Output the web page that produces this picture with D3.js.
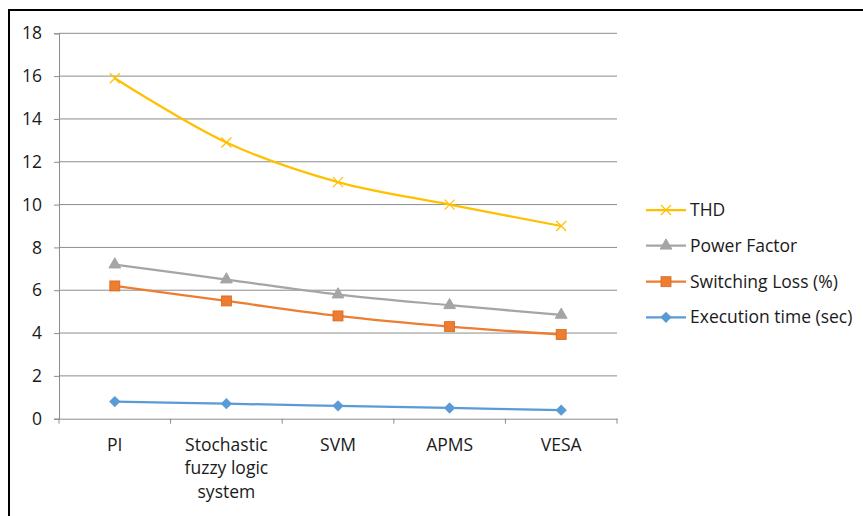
<!DOCTYPE html>
<html><head><meta charset="utf-8">
<script src="https://cdn.jsdelivr.net/npm/d3@7"></script>
<style>body{margin:0;background:#fff;} svg{display:block;} text{font-family:"Open Sans",Lato,sans-serif;fill:#1a1a1a;}</style>
</head><body>
<svg id="c" width="863" height="516"></svg>
<script>
const categories = [["PI"], ["Stochastic","fuzzy logic","system"], ["SVM"], ["APMS"], ["VESA"]];
const seriesNames = ["THD", "Power Factor", "Switching Loss (%)", "Execution time (sec)"];
const thd = [15.9, 12.9, 11.05, 10.0, 9.0];
const powerFactor = [7.2, 6.5, 5.8, 5.3, 4.85];
const switchingLoss = [6.2, 5.5, 4.8, 4.3, 3.93];
const executionTime = [0.8, 0.7, 0.6, 0.5, 0.4];
const yTicks = [0, 2, 4, 6, 8, 10, 12, 14, 16, 18];
const colors = ["#FFC000", "#A5A5A5", "#ED7D31", "#5B9BD5"];
const markers = ["x", "triangle", "square", "diamond"];
const FONT = "'Open Sans', Lato, sans-serif";
const FS = 17.5;

const svg = d3.select("#c");
svg.append("rect").attr("x", 9).attr("y", 10).attr("width", 900).attr("height", 600)
  .attr("fill", "none").attr("stroke", "#000").attr("stroke-width", 2);

const x = d3.scaleBand().domain(d3.range(categories.length)).range([59, 617]).padding(0);
const y = d3.scaleLinear().domain([0, 18]).range([418.7, 33.3]);

svg.append("g").selectAll("line").data(yTicks.filter(d => d > 0)).join("line")
  .attr("x1", 59).attr("x2", 617).attr("y1", d => y(d)).attr("y2", d => y(d))
  .attr("stroke", "#8c8c8c").attr("stroke-width", 1);

const ya = svg.append("g").attr("transform", "translate(59,0)")
  .call(d3.axisLeft(y).tickValues(yTicks).tickSize(5).tickPadding(12).tickFormat(d3.format("d")));
ya.select(".domain").attr("stroke", "#8c8c8c");
ya.selectAll(".tick line").attr("stroke", "#8c8c8c");
ya.selectAll("text").attr("font-size", FS).attr("font-family", FONT).attr("fill", "#1a1a1a");

const xa = svg.append("g").attr("transform", "translate(0," + y(0) + ")")
  .call(d3.axisBottom(x).tickSize(0).tickFormat(""));
xa.select(".domain").attr("stroke", "#8c8c8c");
const bounds = x.domain().map(i => x(i)).concat([x.range()[1]]);
svg.append("g").selectAll("line").data(bounds).join("line")
  .attr("x1", d => d).attr("x2", d => d).attr("y1", y(0)).attr("y2", y(0) + 5)
  .attr("stroke", "#8c8c8c");
const xl = svg.append("g").selectAll("text").data(categories).join("text")
  .attr("x", (d, i) => x(i) + x.bandwidth() / 2).attr("y", y(0) + 32)
  .attr("text-anchor", "middle").attr("font-size", FS);
xl.each(function(d) {
  const t = d3.select(this);
  d.forEach((s, k) => t.append("tspan").attr("x", t.attr("x")).attr("dy", k === 0 ? 0 : 23.5).text(s));
});

const allSeries = [thd, powerFactor, switchingLoss, executionTime];
const line = d3.line().x((d, i) => x(i) + x.bandwidth() / 2).y(d => y(d)).curve(d3.curveCatmullRom.alpha(0.5));

function drawMarker(g, type, cx, cy, color) {
  if (type === "x") {
    const s = 5;
    g.append("path").attr("d", `M${cx-s},${cy-s}L${cx+s},${cy+s}M${cx-s},${cy+s}L${cx+s},${cy-s}`)
      .attr("stroke", color).attr("stroke-width", 1.2).attr("fill", "none");
  } else if (type === "triangle") {
    g.append("path").attr("d", d3.symbol(d3.symbolTriangle, 60)()).attr("transform", `translate(${cx},${cy})`)
      .attr("fill", color).attr("stroke", color);
  } else if (type === "square") {
    g.append("rect").attr("x", cx - 5).attr("y", cy - 5).attr("width", 10).attr("height", 10)
      .attr("fill", color).attr("stroke", "#d9661e").attr("stroke-width", 0.8);
  } else {
    g.append("rect").attr("x", -4).attr("y", -4).attr("width", 8).attr("height", 8)
      .attr("transform", `translate(${cx},${cy}) rotate(45)`).attr("fill", color);
  }
}

[3, 2, 1, 0].forEach(si => {
  const g = svg.append("g");
  g.append("path").attr("d", line(allSeries[si])).attr("fill", "none")
    .attr("stroke", colors[si]).attr("stroke-width", 2.25);
  allSeries[si].forEach((v, i) => drawMarker(g, markers[si], x(i) + x.bandwidth() / 2, y(v), colors[si]));
});

const legY = [210, 245.7, 281.7, 317.3];
seriesNames.forEach((n, i) => {
  const g = svg.append("g");
  g.append("line").attr("x1", 646).attr("x2", 686).attr("y1", legY[i]).attr("y2", legY[i])
    .attr("stroke", colors[i]).attr("stroke-width", 2.25);
  drawMarker(g, markers[i], 666, legY[i], colors[i]);
  g.append("text").attr("x", 690).attr("y", legY[i] + 6).attr("font-size", FS).text(n);
});
</script>
</body></html>
